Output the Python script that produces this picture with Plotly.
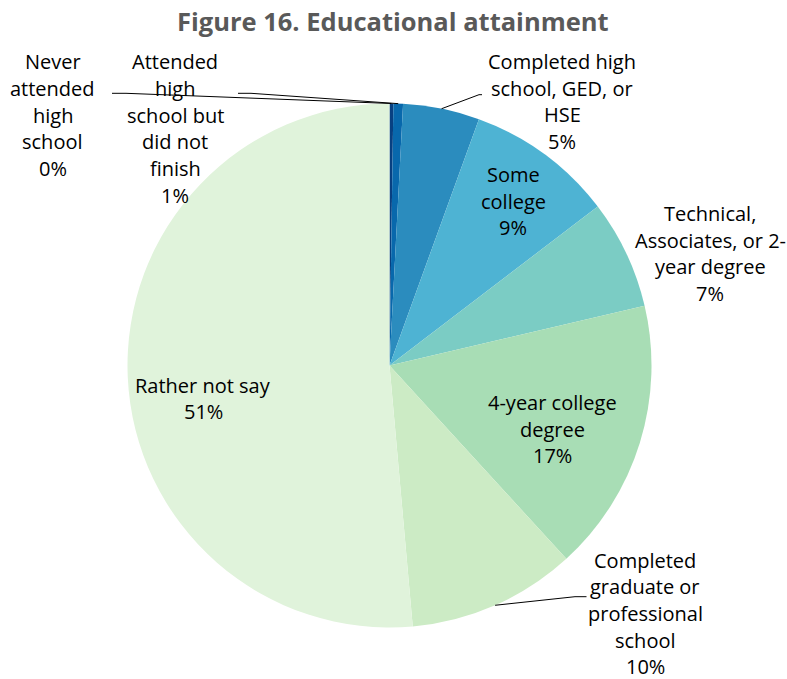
import math
import plotly.graph_objects as go

# Survey responses by highest level of education (respondent counts)
categories = [
    "Never attended high school",
    "Attended high school but did not finish",
    "Completed high school, GED, or HSE",
    "Some college",
    "Technical, Associates, or 2-year degree",
    "4-year college degree",
    "Completed graduate or professional school",
    "Rather not say",
]
counts = [2, 5, 40, 77, 57, 143, 88, 436]

# Label text broken into lines the way it is set beside the pie
label_lines = [
    ["Never", "attended", "high", "school"],
    ["Attended", "high", "school but", "did not", "finish"],
    ["Completed high", "school, GED, or", "HSE"],
    ["Some", "college"],
    ["Technical,", "Associates, or 2-", "year degree"],
    ["4-year college", "degree"],
    ["Completed", "graduate or", "professional", "school"],
    ["Rather not say"],
]

colors = ["#084081", "#0868ac", "#2b8cbe", "#4eb3d3",
          "#7bccc4", "#a8ddb5", "#ccebc5", "#e0f3db"]

W, H = 787, 679
CX, CY, R = 389.5, 365.5, 262.0          # pie centre and radius in pixels
FONT = "Open Sans"
FS = 20
LINE_H = 26.7

# centre of each label block (pixels)
label_pos = [
    (53, 115), (175, 128.5), (562, 101.5), (513, 201),
    (710, 253.5), (552, 429), (645, 613.5), (203, 398.5),
]
# leader lines: (slice index, elbow points from the label end)
leaders = {
    0: [(112, 93.3), (126, 93.3)],
    1: [(238, 93.3), (251, 93.3)],
    2: [(482, 94.7), (479, 94.7)],
    6: [(586.5, 596.7), (575, 596.7)],
}


def px(x):
    return x / W


def py(y):
    return 1 - y / H


total = sum(counts)
pcts = [round(100 * c / total) for c in counts]

fig = go.Figure(go.Pie(
    labels=categories,
    values=counts,
    sort=False,
    direction="clockwise",
    rotation=0,
    marker=dict(colors=colors, line=dict(width=0)),
    textinfo="none",
    hoverinfo="label+percent",
    showlegend=False,
    domain=dict(x=[px(CX - R), px(CX + R)], y=[py(CY + R), py(CY - R)]),
))

annotations = []
for lines, pct, (lx, ly) in zip(label_lines, pcts, label_pos):
    rows = lines + [f"{pct}%"]
    top = ly - LINE_H * (len(rows) - 1) / 2
    for k, row in enumerate(rows):
        annotations.append(dict(
            x=px(lx), y=py(top + k * LINE_H), xref="paper", yref="paper",
            text=row, showarrow=False, xanchor="center", yanchor="middle",
            borderpad=0,
            font=dict(family=FONT, size=FS, color="#000000"),
        ))

annotations.append(dict(
    x=px(393), y=py(21), xref="paper", yref="paper",
    text="<b>Figure 16. Educational attainment</b>", showarrow=False,
    xanchor="center", yanchor="middle",
    font=dict(family=FONT, size=25.5, color="#595959"),
))

# leader lines run from the label to the outer edge at the slice's mid-angle
shapes = []
cum = 0.0
mids = []
for c in counts:
    mids.append((cum + c / 2) / total)
    cum += c
for idx, pts in leaders.items():
    ang = 2 * math.pi * mids[idx]
    ex = CX + R * math.sin(ang)
    ey = CY - R * math.cos(ang)
    path_pts = pts + [(ex, ey)]
    d = "M " + " L ".join(f"{px(x)},{py(y)}" for x, y in path_pts)
    shapes.append(dict(type="path", path=d, xref="paper", yref="paper",
                       line=dict(color="#000000", width=1)))

fig.update_layout(
    width=W, height=H, autosize=False,
    margin=dict(l=0, r=0, t=0, b=0),
    paper_bgcolor="#ffffff", plot_bgcolor="#ffffff",
    annotations=annotations, shapes=shapes,
)

fig.write_html("out.html")
